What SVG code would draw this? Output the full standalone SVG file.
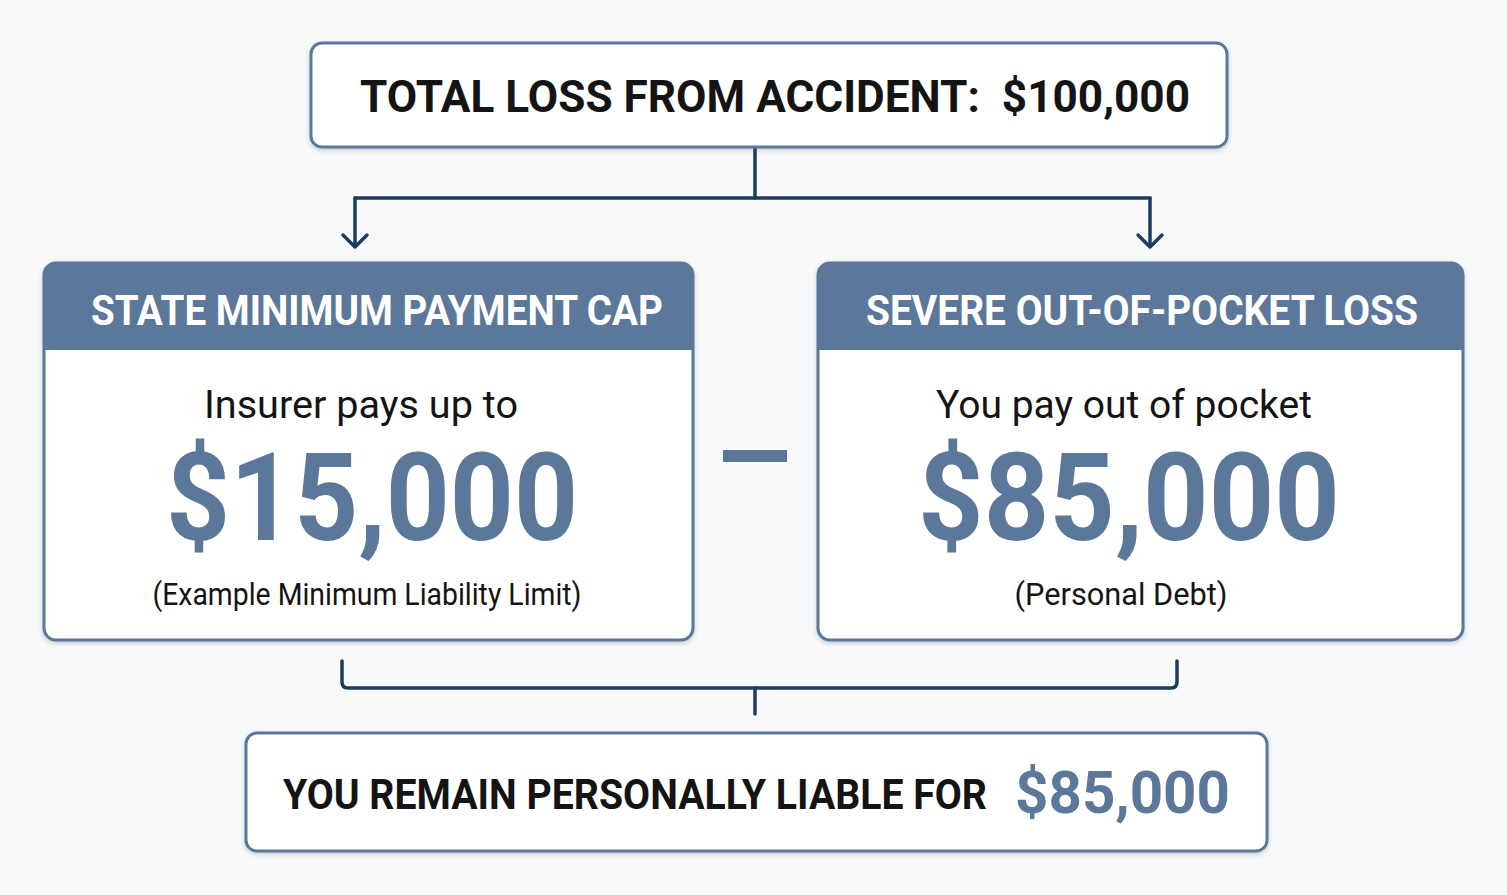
<svg xmlns="http://www.w3.org/2000/svg" width="1507" height="895" viewBox="0 0 1507 895">
<defs>
<style>
.box{fill:#ffffff;stroke:#5b7799;stroke-width:3}
.hdr{fill:#5b7799}
.conn{fill:none;stroke:#1f3b5e;stroke-width:3.5;stroke-linecap:round;stroke-linejoin:round}
.t{font-family:Roboto,"Liberation Sans",sans-serif}
.blk{fill:#141414;font-weight:700}
.wht{fill:#ffffff;font-weight:700}
.blue{fill:#5b7799;font-weight:700}
.body{fill:#141414;font-weight:400}
</style>
<filter id="sh" x="-5%" y="-5%" width="110%" height="115%">
<feDropShadow dx="0" dy="2" stdDeviation="2" flood-color="#33465e" flood-opacity="0.25"/>
</filter>
</defs>
<rect x="0" y="0" width="1507" height="895" fill="#f8f9fa"/>

<g id="connectors">
<path class="conn" d="M755,148 V198"/>
<path class="conn" d="M355,198 H1150"/>
<path class="conn" d="M355,198 V246"/>
<path class="conn" d="M1150,198 V246"/>
<path class="conn" d="M343,235 L355,247 L367,235"/>
<path class="conn" d="M1138,235 L1150,247 L1162,235"/>
<path class="conn" d="M342,661 V682 Q342,688 348,688 H1171 Q1177,688 1177,682 V661"/>
<path class="conn" d="M755,688 V714"/>
</g>

<g id="total-loss">
<rect class="box" x="311" y="43" width="916" height="104" rx="11" filter="url(#sh)"/>
<text class="t blk" x="775" y="112" font-size="44" text-anchor="middle" textLength="830" lengthAdjust="spacingAndGlyphs">TOTAL LOSS FROM ACCIDENT:&#160; $100,000</text>
</g>

<g id="state-minimum">
<rect class="box" x="44" y="263" width="649" height="377" rx="12" filter="url(#sh)"/>
<path class="hdr" d="M56,263 H681 Q693,263 693,275 V350 H44 V275 Q44,263 56,263 Z"/>
<text class="t wht" x="377" y="325" font-size="42" text-anchor="middle" textLength="572" lengthAdjust="spacingAndGlyphs">STATE MINIMUM PAYMENT CAP</text>
<text class="t body" x="361" y="418" font-size="38" text-anchor="middle" textLength="314" lengthAdjust="spacingAndGlyphs">Insurer pays up to</text>
<text class="t blue" x="372" y="540" font-size="122" text-anchor="middle" textLength="412" lengthAdjust="spacingAndGlyphs">$15,000</text>
<text class="t body" x="367" y="605" font-size="31" text-anchor="middle" textLength="429" lengthAdjust="spacingAndGlyphs">(Example Minimum Liability Limit)</text>
</g>

<g id="minus">
<rect x="723" y="450" width="64" height="12" fill="#5b7799"/>
</g>

<g id="out-of-pocket">
<rect class="box" x="818" y="263" width="645" height="377" rx="12" filter="url(#sh)"/>
<path class="hdr" d="M830,263 H1451 Q1463,263 1463,275 V350 H818 V275 Q818,263 830,263 Z"/>
<text class="t wht" x="1142" y="325" font-size="42" text-anchor="middle" textLength="552" lengthAdjust="spacingAndGlyphs">SEVERE OUT-OF-POCKET LOSS</text>
<text class="t body" x="1124" y="418" font-size="38" text-anchor="middle" textLength="376" lengthAdjust="spacingAndGlyphs">You pay out of pocket</text>
<text class="t blue" x="1129" y="540" font-size="122" text-anchor="middle" textLength="422" lengthAdjust="spacingAndGlyphs">$85,000</text>
<text class="t body" x="1121" y="605" font-size="31" text-anchor="middle" textLength="213" lengthAdjust="spacingAndGlyphs">(Personal Debt)</text>
</g>

<g id="liable">
<rect class="box" x="246" y="733" width="1021" height="118" rx="11" filter="url(#sh)"/>
<text class="t blk" x="283" y="809" font-size="42" textLength="704" lengthAdjust="spacingAndGlyphs">YOU REMAIN PERSONALLY LIABLE FOR</text>
<text class="t blue" x="1015" y="813" font-size="60" textLength="215" lengthAdjust="spacingAndGlyphs">$85,000</text>
</g>
</svg>
